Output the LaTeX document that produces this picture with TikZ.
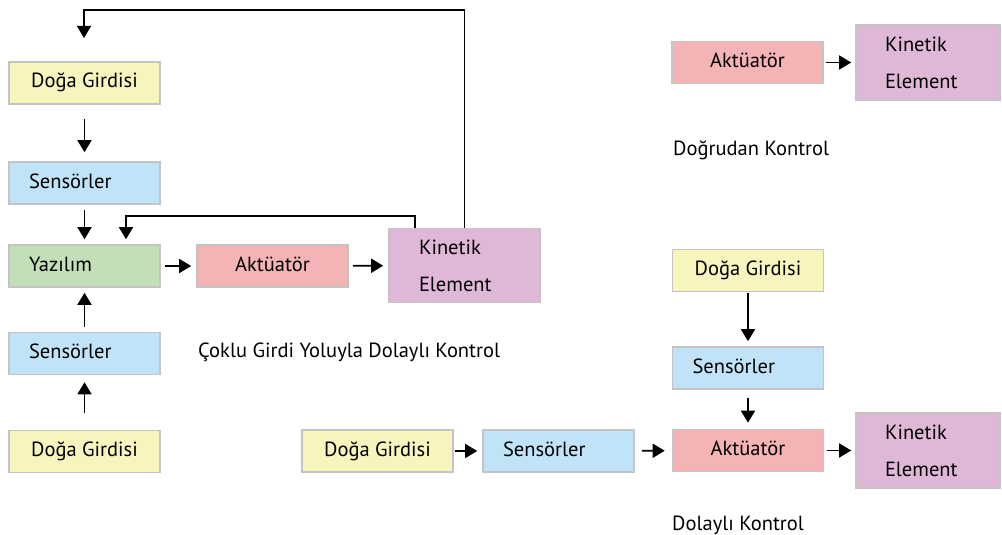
\documentclass[tikz,border=0pt]{standalone}
\usepackage{fontspec}
\setmainfont{PT Sans}
\usetikzlibrary{arrows.meta,calc}
\definecolor{cyel}{HTML}{F8F4BE}
\definecolor{cblu}{HTML}{C0E3F7}
\definecolor{cgrn}{HTML}{C3DFB9}
\definecolor{cred}{HTML}{F4B3B4}
\definecolor{cpur}{HTML}{DFB8D8}
\definecolor{cbord}{HTML}{C4C4C4}
\tikzset{
  box/.style={draw=cbord, line width=1.6pt, minimum height=42pt, inner ysep=0pt,
    font=\fontsize{20.5}{24}\selectfont, text height=14pt, text depth=4pt},
  boxc/.style={box, minimum width=151pt, align=center},
  boxl/.style={box, text width=111pt, inner xsep=20pt, align=left},
  kbox/.style={draw=cbord, line width=1.6pt, inner ysep=0pt, align=left,
    font=\fontsize{20.5}{37}\selectfont, minimum height=74pt},
  arr/.style={line width=1.6pt, -{Triangle[length=12pt,width=14pt]}},
  lbl/.style={font=\fontsize{20.5}{24}\selectfont, inner sep=0pt, anchor=west}
}
\begin{document}
\begin{tikzpicture}[x=1pt,y=-1pt]
\useasboundingbox (0,0) rectangle (1002,535);
% left diagram
\node[boxc, fill=cyel] (doga1) at (84.5,83) {Doğa Girdisi};
\node[boxl, fill=cblu] (sens1) at (84.5,183) {Sensörler};
\node[boxl, fill=cgrn] (yaz) at (84.5,266) {Yazılım};
\node[boxc, fill=cred] (akt1) at (272.5,266) {Aktüatör};
\node[kbox, fill=cpur, text width=91pt, inner xsep=30pt] (kin1) at (464.5,265.5) {Kinetik\\Element};
\node[boxl, fill=cblu] (sens2) at (84.5,353.5) {Sensörler};
\node[boxc, fill=cyel] (doga2) at (84.5,451.5) {Doğa Girdisi};
\node[lbl] (lab1) at (198,352) {Çoklu Girdi Yoluyla Dolaylı Kontrol};

\draw[arr, shorten <=14pt, shorten >=9pt] (doga1) -- (sens1);
\draw[arr, shorten <=5pt, shorten >=5pt] (sens1) -- (yaz);
\draw[arr, shorten <=5pt, shorten >=5pt] (sens2) -- (yaz);
\draw[arr, shorten <=17pt, shorten >=7pt] (doga2) -- (sens2);
\draw[arr, shorten <=4pt, shorten >=5pt] (yaz) -- (akt1);
\draw[arr, shorten <=4pt, shorten >=5pt] (akt1) -- (kin1);
\coordinate (fbtop) at (84,10);
\coordinate (fbend) at (84,38);
\draw[arr] (kin1.north) |- (fbtop) -- (fbend);
\coordinate (fb2) at (126,216);
\draw[arr, shorten >=5pt] ([xshift=27pt]kin1.north west) |- (fb2) -- (fb2 |- yaz.north);

% direct control
\node[boxc, fill=cred] (akt2) at (747.5,62.5) {Aktüatör};
\node[kbox, fill=cpur, text width=86pt, inner xsep=29pt, minimum height=75pt] (kin2) at (928,62.5) {Kinetik\\Element};
\draw[arr, shorten <=2pt, shorten >=4pt] (akt2) -- (kin2);
\node[lbl] (lab2) at (673,150) {Doğrudan Kontrol};

% indirect control
\node[boxc, fill=cyel] (doga3) at (748,270.5) {Doğa Girdisi};
\node[boxl, fill=cblu] (sens3) at (748,368) {Sensörler};
\node[boxc, fill=cred] (akt3) at (748,450.5) {Aktüatör};
\node[kbox, fill=cpur, text width=86pt, inner xsep=29pt, minimum height=75pt] (kin3) at (928,450.5) {Kinetik\\Element};
\node[boxc, fill=cyel] (doga4) at (377.5,451) {Doğa Girdisi};
\node[boxl, fill=cblu] (sens4) at (558.5,451) {Sensörler};
\draw[arr, shorten <=1pt, shorten >=5pt] (doga3) -- (sens3);
\draw[arr, shorten <=8pt, shorten >=6pt] (sens3) -- (akt3);
\draw[arr, shorten <=1pt, shorten >=5pt] (doga4) -- (sens4);
\draw[arr, shorten <=7pt, shorten >=7pt] (sens4) -- (akt3);
\draw[arr, shorten <=3pt, shorten >=4pt] (akt3) -- (kin3);
\node[lbl] (lab3) at (672,525) {Dolaylı Kontrol};
\end{tikzpicture}
\end{document}
